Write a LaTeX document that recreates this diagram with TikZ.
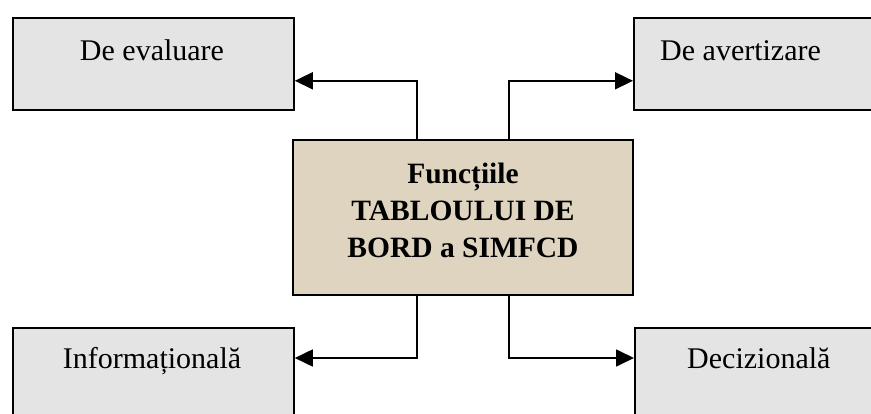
\documentclass[tikz,border=0pt]{standalone}
\usepackage{fontspec}
\setmainfont{Liberation Serif}
\usetikzlibrary{arrows.meta}
\definecolor{boxgray}{RGB}{228,228,228}
\definecolor{boxbeige}{RGB}{222,212,192}
\begin{document}
\begin{tikzpicture}[x=1pt,y=1pt,
  outerbox/.style={draw=black, line width=1.8pt, fill=boxgray, minimum width=281pt, minimum height=92pt, anchor=north west, inner sep=0pt},
  centerbox/.style={draw=black, line width=1.8pt, fill=boxbeige, minimum width=340pt, minimum height=155pt, inner sep=0pt},
  centertext/.style={inner sep=0pt, align=center, font=\bfseries\fontsize{29.5}{37}\selectfont},
  lbl/.style={font=\fontsize{30}{36}\selectfont, inner sep=0pt},
  conn/.style={line width=1.7pt, -{Triangle[length=18pt,width=17pt]}}
]
\useasboundingbox (0,0) rectangle (871,-414);
\clip (0,0) rectangle (871,-414);
\fill[white] (0,0) rectangle (871,-414);
% boxes
\node[outerbox] (eval) at (12,-17) {};
\node[outerbox] (aver) at (633,-17) {};
\node[outerbox] (info) at (12,-327) {};
\node[outerbox] (dec) at (634,-327) {};
\node[centerbox] (ctr) at (463,-217.5) {};
% labels
\node[centertext, anchor=base] (ctrt) at (463,-258) {Funcțiile\\TABLOULUI DE\\BORD a SIMFCD};
\node[lbl, anchor=base] (evalt) at (152,-61) {De evaluare};
\node[lbl, anchor=base west] (avert) at (660,-61) {De avertizare};
\node[lbl, anchor=base] (infot) at (152,-369) {Informațională};
\node[lbl, anchor=base west] (dect) at (687,-369) {Decizională};
% connectors
\draw[conn] ([xshift=-46pt]ctr.north) |- ([yshift=30pt]eval.south east);
\draw[conn] ([xshift=46pt]ctr.north) |- ([yshift=30pt]aver.south west);
\draw[conn] ([xshift=-46pt]ctr.south) |- ([yshift=-31pt]info.north east);
\draw[conn] ([xshift=46pt]ctr.south) |- ([yshift=-31pt]dec.north west);
\end{tikzpicture}
\end{document}
